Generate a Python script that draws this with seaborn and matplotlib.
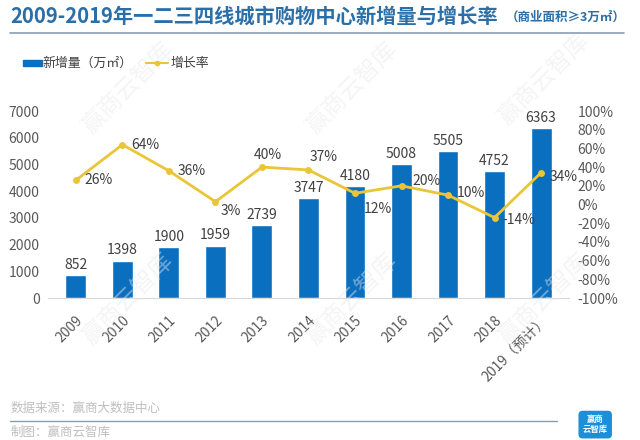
import matplotlib
matplotlib.use('Agg')
import matplotlib.pyplot as plt
import pandas as pd
import seaborn as sns
from matplotlib.lines import Line2D
from matplotlib.patches import Rectangle

years = ['2009', '2010', '2011', '2012', '2013', '2014', '2015', '2016',
         '2017', '2018', '2019（预计）']
new_area = [852, 1398, 1900, 1959, 2739, 3747, 4180, 5008, 5505, 4752, 6363]
growth = [26, 64, 36, 3, 40, 37, 12, 20, 10, -14, 34]

BAR = '#0A6FBF'
LINE = '#EAC536'
TXT = '#404040'

sns.set_style('white')
plt.rcParams['font.family'] = ['Noto Sans CJK SC', 'DejaVu Sans']

df = pd.DataFrame({'year': years, 'area': new_area, 'growth': growth})

fig = plt.figure(figsize=(6.4, 4.4), dpi=100)
ax = fig.add_axes([0.075, 0.3227, 0.814, 0.425])
sns.barplot(data=df, x='year', y='area', color=BAR, width=0.45,
            saturation=1, ax=ax)
ax.set_ylim(0, 7000)
ax.set_xlim(-0.6, 10.6)
ax.set_yticks(range(0, 7001, 1000))
ax.set_xlabel('')
ax.set_ylabel('')
for i, v in enumerate(new_area):
    ax.text(i, v + 120, str(v), ha='center', va='bottom', fontsize=10,
            color=TXT)

for s in ['top', 'right', 'left']:
    ax.spines[s].set_visible(False)
ax.spines['bottom'].set_color('#D9D9D9')
ax.tick_params(axis='both', length=0, colors='#595959', labelsize=10)
ax.tick_params(axis='y', pad=6)
ax.tick_params(axis='x', pad=11)
plt.setp(ax.get_xticklabels(), rotation=45, ha='right',
         rotation_mode='anchor')

# growth rate on the right axis
ax2 = ax.twinx()
sns.lineplot(x=list(range(len(years))), y=growth, color=LINE, lw=2,
             marker='o', markersize=5, markeredgewidth=0, ax=ax2)
ax2.set_ylim(-100, 100)
ax2.set_yticks(range(-100, 101, 20))
ax2.set_yticklabels([f'{t}%' for t in range(-100, 101, 20)])
ax2.tick_params(axis='y', length=0, colors='#595959', labelsize=10, pad=6)
for s in ax2.spines.values():
    s.set_visible(False)

# label offsets in points: (dx, dy, horizontal alignment)
offsets = [(6, 0, 'left'), (6, 0, 'left'), (6, 0, 'left'),
           (3.5, -7, 'left'), (4, 9, 'center'), (11, 9, 'center'),
           (6, -11, 'left'), (8, 3.5, 'left'), (6, 1.5, 'left'),
           (6, -2, 'left'), (6.5, -3, 'left')]
for i, (g, (dx, dy, ha)) in enumerate(zip(growth, offsets)):
    ax2.annotate(f'{g}%', (i, g), xytext=(dx, dy), textcoords='offset points',
                 ha=ha, va='center', fontsize=10, color=TXT)

# title and rule
fig.text(0.016, 0.963, '2009-2019年一二三四线城市购物中心新增量与增长率',
         fontsize=14.6, fontweight='bold', color='#2B6FA8', va='center')
fig.text(0.79, 0.96, '（商业面积≥3万㎡）', fontsize=9, fontweight='bold',
         color='#2B6FA8', va='center')
fig.add_artist(Line2D([0.016, 0.975], [0.925, 0.925], color='#8A9DB0',
                      lw=1.2))

# legend
fig.add_artist(Rectangle((0.036, 0.849), 0.029, 0.015, color=BAR))
fig.text(0.067, 0.856, '新增量（万㎡）', fontsize=9.3, color=TXT, va='center')
fig.add_artist(Line2D([0.228, 0.262], [0.856, 0.856], color=LINE, lw=1.5))
fig.add_artist(Line2D([0.245], [0.856], color=LINE, marker='o',
                      markersize=3))
fig.text(0.266, 0.856, '增长率', fontsize=9.3, color=TXT, va='center')

# watermarks
for (x, y) in [(0.2, 0.8), (0.55, 0.8), (0.85, 0.82), (0.2, 0.32),
               (0.55, 0.32), (0.85, 0.32)]:
    fig.text(x, y, '赢商云智库', fontsize=17, color='#E8E8E8', rotation=45,
             ha='center', va='center', alpha=0.45, zorder=0)

# footer
fig.text(0.016, 0.072, '数据来源：赢商大数据中心', fontsize=9, color='#BFBFBF',
         va='center')
fig.add_artist(Line2D([0.016, 0.87], [0.043, 0.043], color='#8A9DB0',
                      lw=1))
fig.text(0.016, 0.018, '制图：赢商云智库', fontsize=9, color='#BFBFBF',
         va='center')
fig.text(0.93, 0.035, '赢商\n云智库', fontsize=6, color='white',
         ha='center', va='center', fontweight='bold',
         bbox=dict(boxstyle='round,pad=0.5', fc='#1B8FD8', ec='none'))

fig.savefig('out.png', dpi=100)
